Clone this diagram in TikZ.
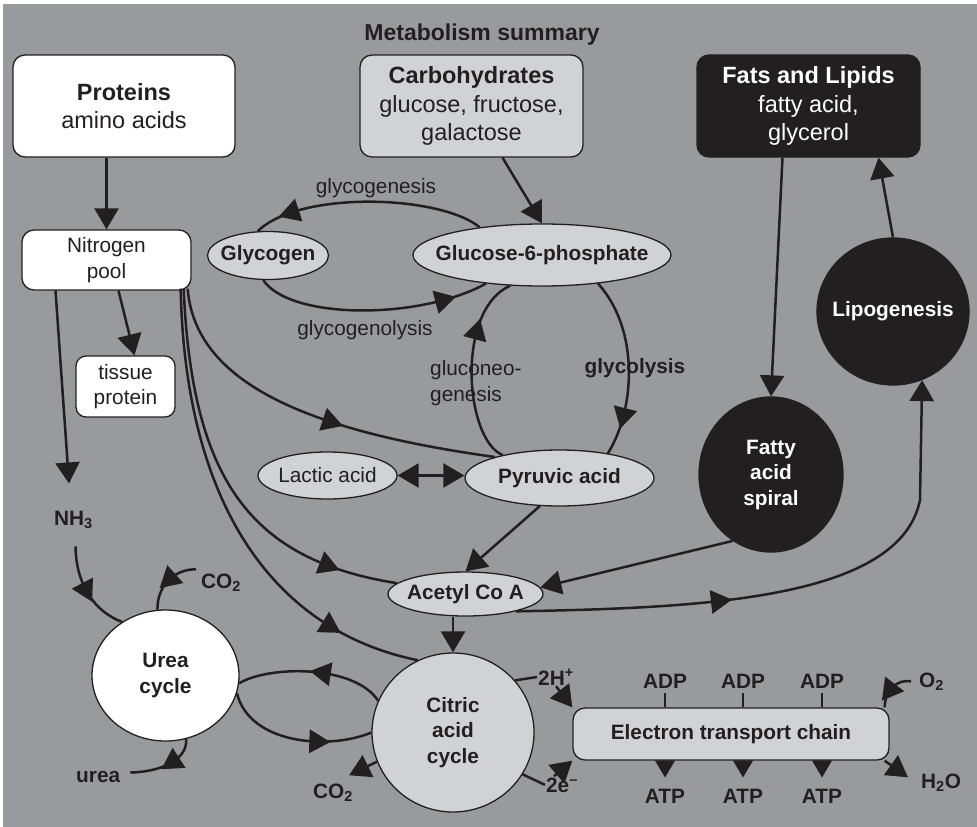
\documentclass[tikz,border=0pt]{standalone}
\usepackage{fontspec}
\setmainfont{Liberation Sans}
\usetikzlibrary{arrows.meta, shapes.geometric, decorations.markings}
\definecolor{ink}{HTML}{231F20}
\definecolor{panel}{HTML}{999A9E}
\definecolor{light}{HTML}{D1D2D4}

\begin{document}
\begin{tikzpicture}[x=1pt, y=-1pt,
  txt/.style={font=\fontsize{20.8}{25.5}\selectfont, text=ink, align=center},
  txtb/.style={font=\bfseries\fontsize{20.8}{25.5}\selectfont, text=ink, align=center},
  big/.style={font=\fontsize{23.5}{28.5}\selectfont, align=center},
  roundbox/.style={rectangle, rounded corners=12pt, draw=ink, line width=1.3pt, inner sep=3pt},
  oval/.style={ellipse, draw=ink, line width=1.3pt, inner sep=0pt},
  conn/.style={draw=ink, line width=2.5pt},
  arr/.style={-{Triangle[length=21pt,width=24pt]}},
  smallarr/.style={-{Triangle[length=17pt,width=19.5pt]}},
  mid/.style={postaction={decorate, decoration={markings,
      mark=at position #1 with {\fill[ink] (14pt,0pt) -- (-7pt,12pt) -- (-7pt,-12pt) -- cycle;}}}},
  tick/.style={draw=ink, line width=1.8pt},
]
\useasboundingbox (0,0) rectangle (977,827);
\fill[white] (0,0) rectangle (977,827);
\fill[panel] (3,4) rectangle (977,827);

% ---------- title ----------
\node[font=\bfseries\fontsize{23}{28}\selectfont, text=ink, anchor=base] (title) at (482,40) {Metabolism summary};

% ---------- source boxes ----------
\node[roundbox, fill=white, big, text=ink, minimum width=222pt, minimum height=102pt] (proteins) at (124,106)
  {\textbf{Proteins}\\amino acids};
\node[roundbox, fill=light, big, text=ink, minimum width=223pt, minimum height=102pt] (carbs) at (471.5,106)
  {\textbf{Carbohydrates}\\glucose, fructose,\\galactose};
\node[roundbox, fill=ink, big, text=white, minimum width=223pt, minimum height=102pt] (fats) at (808.5,106)
  {\textbf{Fats and Lipids}\\fatty acid,\\glycerol};

% ---------- nitrogen side ----------
\node[roundbox, fill=white, txt, minimum width=169pt, minimum height=60pt] (npool) at (106.5,260) {Nitrogen\\pool};
\node[roundbox, rounded corners=10pt, fill=white, txt, minimum width=99pt, minimum height=61pt] (tissue) at (125.5,386.5) {tissue\\protein};

% ---------- intermediates ----------
\node[oval, fill=light, minimum width=121pt, minimum height=48pt, label={[txtb]center:Glycogen}] (glycogen) at (268,255.5) {};
\node[oval, fill=light, minimum width=258pt, minimum height=62pt, label={[txtb]center:Glucose-6-phosphate}] (g6p) at (542,255) {};
\node[oval, fill=light, minimum width=139pt, minimum height=47pt, label={[txt]center:Lactic acid}] (lactic) at (327.5,475.5) {};
\node[oval, fill=light, minimum width=189pt, minimum height=56pt, label={[txtb]center:Pyruvic acid}] (pyr) at (559.5,478) {};
\node[oval, fill=light, minimum width=155pt, minimum height=44pt, label={[txtb]center:Acetyl Co A}] (acetyl) at (465.5,594) {};
\node[oval, fill=light, minimum width=162pt, minimum height=159pt, label={[txtb]center:Citric\\acid\\cycle}] (citric) at (453,732.5) {};
\node[oval, fill=white, minimum width=147pt, minimum height=131pt, label={[txtb]center:Urea\\cycle}] (urea) at (165.5,675.5) {};
\node[oval, fill=ink, minimum width=144pt, minimum height=155pt, label={[txtb, text=white]center:Fatty\\acid\\spiral}] (fas) at (771,474.5) {};
\node[oval, fill=ink, minimum width=152pt, minimum height=147pt, label={[txtb, text=white]center:Lipogenesis}] (lipo) at (893,311.5) {};

% ---------- electron transport chain ----------
\node[roundbox, fill=light, txtb, minimum width=316pt, minimum height=52pt] (etc) at (731,734) {Electron transport chain};

% ---------- small labels ----------
\node[txtb, anchor=base west, inner sep=1pt] (nh3) at (53,525) {NH\textsubscript{3}};
\node[txtb, anchor=base west, inner sep=1pt] (co2u) at (200,588) {CO\textsubscript{2}};
\node[txtb, anchor=base west, inner sep=1pt] (urealbl) at (75,782) {urea};
\node[txtb, anchor=base west, inner sep=1pt] (co2c) at (312,798) {CO\textsubscript{2}};
\node[txtb, anchor=base, inner sep=1pt] (h2) at (556,685) {2H\textsuperscript{+}};
\node[txtb, anchor=base, inner sep=1pt] (e2) at (562,792) {2e\textsuperscript{--}};
\node[txtb, anchor=base west, inner sep=1pt] (o2) at (918,687) {O\textsubscript{2}};
\node[txtb, anchor=base west, inner sep=1pt] (h2o) at (920,788) {H\textsubscript{2}O};
\node[txtb, anchor=base, inner sep=1pt] (adp1) at (665,688) {ADP};
\node[txtb, anchor=base, inner sep=1pt] (adp2) at (743,688) {ADP};
\node[txtb, anchor=base, inner sep=1pt] (adp3) at (822,688) {ADP};
\node[txtb, anchor=base, inner sep=1pt] (atp1) at (665,803) {ATP};
\node[txtb, anchor=base, inner sep=1pt] (atp2) at (743,803) {ATP};
\node[txtb, anchor=base, inner sep=1pt] (atp3) at (822,803) {ATP};

\node[txt, anchor=base] (lglycogenesis) at (376,193) {glycogenesis};
\node[txt, anchor=base] (lglycogenolysis) at (365,335) {glycogenolysis};
\node[txt, align=left, anchor=west, inner sep=0pt] (lgluco) at (430,383) {gluconeo-\\genesis};
\node[txtb, anchor=base] (lglycolysis) at (635,373) {glycolysis};

% ---------- connectors: sources ----------
\draw[conn, arr] (proteins.south -| npool.north) -- (npool.north);
\draw[conn, arr] ([xshift=31]carbs.south) -- (g6p.north);
\draw[conn, arr] ([xshift=-26]fats.south) -- (fas.north);
\draw[conn, arr] (lipo.north) -- ([xshift=70]fats.south);

% ---------- nitrogen pool ----------
\draw[conn, arr] ([xshift=12]npool.south) -- ([xshift=9]tissue.north);
\draw[conn, arr] ([xshift=-51]npool.south) -- ([xshift=-4.5,yshift=26]nh3.north);
\draw[conn, mid=0.55] ([xshift=-4,yshift=2]npool.south east) .. controls (195,380) and (300,430) .. (pyr.162);
\draw[conn, mid=0.82] ([xshift=-8,yshift=2]npool.south east) .. controls (192,480) and (250,560) .. (acetyl.171);
\draw[conn, mid=0.8] ([xshift=-11,yshift=2]npool.south east) .. controls (185,500) and (270,630) .. (citric.116);

% ---------- glycogen loop ----------
\draw[conn, mid=0.83] (g6p.156) .. controls (440,195) and (300,190) .. (glycogen.113);
\draw[conn, mid=0.8] (glycogen.259) .. controls (290,320) and (420,320) .. (g6p.207);

% ---------- glycolysis / gluconeogenesis ----------
\draw[conn, mid=0.69] (pyr.158) .. controls (465,440) and (455,310) .. (g6p.224);
\draw[conn, mid=0.77] (g6p.333) .. controls (640,330) and (635,410) .. (pyr.27);
\draw[conn, {Triangle[length=21pt,width=24pt]}-{Triangle[length=21pt,width=24pt]}] (lactic.east) -- (lactic.east -| pyr.west);

% ---------- acetyl CoA ----------
\draw[conn, arr] (pyr.235) -- (acetyl.north);
\draw[conn, arr] (fas.240) -- (acetyl.5);
\draw[conn, arr, mid=0.36] (acetyl.341) .. controls (700,608) and (900,600) .. (920,500) -- (lipo.293);
\draw[conn, arr] (citric.north |- acetyl.south) -- (citric.north);

% ---------- urea cycle ----------
\draw[conn, mid=0.47] ([xshift=2,yshift=-17]nh3.south) .. controls (76,585) and (95,612) .. (urea.129);
\draw[conn, mid=0.45] ([xshift=-4,yshift=13]co2u.west) .. controls (175,569) and (157,585) .. (urea.97);
\draw[conn, mid=0.38] (urea.288) .. controls (188,760) and (160,772) .. ([xshift=9,yshift=4]urealbl.east);
\draw[conn, mid=0.42] (citric.157) .. controls (355,665) and (270,665) .. (urea.354);
\draw[conn, mid=0.64] (urea.346) .. controls (250,745) and (330,750) .. (citric.west);

% ---------- citric acid cycle outputs ----------
\draw[conn, arr] (citric.201) -- ([xshift=16,yshift=7]co2c.north);
\draw[conn] (citric.40) -- (h2.west);
\draw[conn] (citric.-31) -- (e2.west);
\draw[conn, arr] (h2.south) -- (etc.north west);
\draw[conn, arr] ([xshift=-8]e2.north) -- (etc.south west);

% ---------- electron transport chain ----------
\foreach \n in {1,2,3}{
  \draw[tick] ([yshift=-4]adp\n.south) -- (adp\n.south |- etc.north);
  \draw[conn, smallarr] (etc.south -| atp\n.north) -- ([yshift=10]atp\n.north);
}
\draw[conn, mid=0.55] ([xshift=-7]o2.west) .. controls (897,679) and (885,690) .. ([xshift=-5]etc.north east);
\draw[conn, arr] ([xshift=-5]etc.south east) -- ([xshift=-12,yshift=5]h2o.west);
\end{tikzpicture}
\end{document}
